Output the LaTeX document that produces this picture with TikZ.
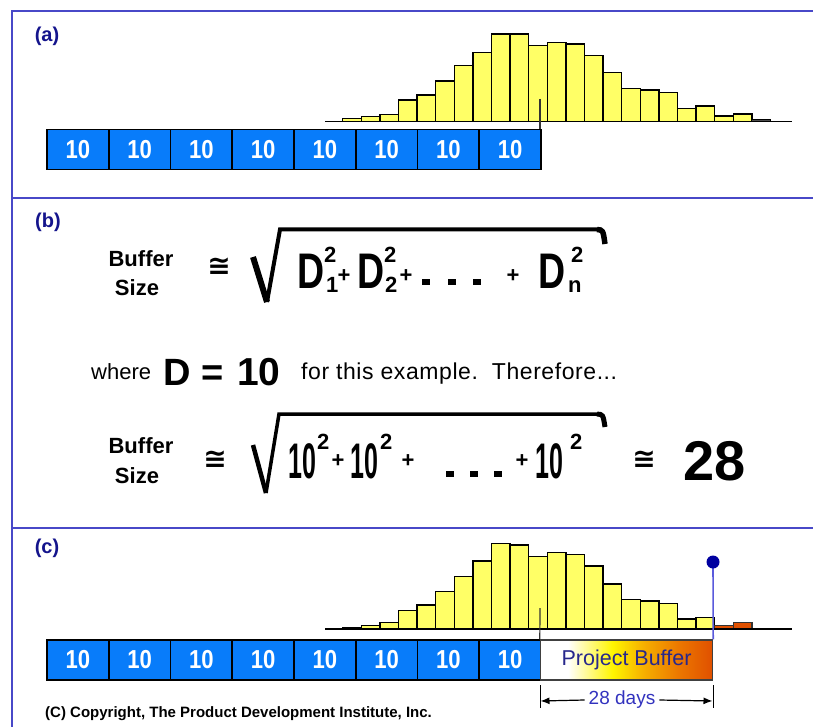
\documentclass[tikz,border=0pt]{standalone}
\usepackage{fontspec}
\setmainfont{Liberation Sans}
\newfontfamily\djv{DejaVu Sans}
\newfontfamily\narrowfont[FakeStretch=0.5]{Liberation Sans}
\newfontfamily\condfont[FakeStretch=0.75]{Liberation Sans}
\newfontfamily\boxfont[FakeStretch=0.85]{Liberation Sans}
\usetikzlibrary{arrows.meta}
\newcommand{\fsz}[1]{\fontsize{#1}{#1}\selectfont}
\definecolor{frameblue}{RGB}{72,72,200}
\definecolor{labelblue}{RGB}{20,20,140}
\definecolor{taskblue}{RGB}{8,124,250}
\definecolor{histyellow}{RGB}{255,255,102}
\definecolor{bufred}{RGB}{224,80,0}
\definecolor{orangeA}{RGB}{246,175,0}
\definecolor{orangeB}{RGB}{236,120,0}
\definecolor{pbyellow}{RGB}{255,245,0}
\definecolor{navytext}{RGB}{40,40,140}
\definecolor{dimblue}{RGB}{50,50,190}
\definecolor{markerblue}{RGB}{90,90,220}
\definecolor{dotblue}{RGB}{0,0,160}
\pgfdeclarehorizontalshading{pbshade}{100bp}{color(0bp)=(white); color(25bp)=(white); color(33bp)=(white); color(46bp)=(pbyellow); color(55bp)=(orangeA); color(65bp)=(orangeB); color(75bp)=(bufred); color(100bp)=(bufred)}
\tikzset{
  frame/.style={draw=frameblue, line width=2pt},
  bar/.style={draw=black, line width=1.3pt, fill=histyellow},
  tailbar/.style={draw=black!80, line width=1.3pt, fill=bufred},
  taskbox/.style={draw=black, line width=1.6pt, fill=taskblue, minimum width=61.75pt, minimum height=40pt, inner sep=0pt, text=white, font=\boxfont\bfseries\fsz{26}},
  panellabel/.style={text=labelblue, font=\bfseries\fsz{20}, inner sep=0pt},
  tok/.style={anchor=base west, inner sep=0pt},
  bigD/.style={tok, font=\condfont\bfseries\fsz{50}},
  small2/.style={tok, font=\bfseries\fsz{22}},
  plus/.style={inner sep=0pt, font=\bfseries\fsz{22}},
  narrowten/.style={tok, font=\narrowfont\bfseries\fsz{50}},
  approx/.style={inner sep=0pt, font=\djv\bfseries\fsz{28}},
  word/.style={inner sep=0pt, font=\bfseries\fsz{22}},
  dotsq/.style={fill=black, minimum width=8pt, minimum height=6pt, inner sep=0pt},
}
\begin{document}
\begin{tikzpicture}[x=1pt,y=-1pt]
\useasboundingbox (0,0) rectangle (813,727);
% frame
\draw[frame] (12,727) -- (12,11) -- (813,11);
\draw[frame] (12,198) -- (813,198);
\draw[frame] (12,528) -- (813,528);
\node[panellabel] (la) at (47,36) {(a)};
\node[panellabel] (lb) at (48,222) {(b)};
\node[panellabel] (lc) at (47,548) {(c)};

% ---------- panel (a)
\foreach \h [count=\i from 0] in {3.4,5,7.4,21.7,26.7,40.7,56,69.4,87.7,87.7,76,79.4,77.7,66,49,33.4,31.7,29,13.4,15.7,5.7,7.7}
  \draw[bar] (342.7+18.6*\i,121.7) rectangle ++(18.6,-\h);
\draw[draw=black, fill=black!70, line width=1pt] (751.9,121.7) rectangle ++(18.6,-1.7);
\draw[line width=1.5pt] (325,121.7) -- (792,121.7);
\foreach \i in {0,...,7}
  \node[taskbox] (ta\i) at (47+30.875+61.75*\i,149.5) {10};
\coordinate (ma) at (540,99);
\draw[line width=1.2pt, draw=black!80] (ma) -- (540,129.5);

% ---------- panel (b)
\node[word] (bf1) at (141,259) {Buffer};
\node[word] (sz1) at (137,288) {Size};
\node[approx] (eq1) at (219,267) {≅};
\draw[line width=6pt] (253,257) -- (267,302);
\draw[line width=4pt, line join=miter] (267,302) -- (280,229.5) -- (600,229.5);
\draw[line width=5.5pt] (597,229.5) .. controls (603,230) .. (605,244);
\node[bigD] (d1) at (297,288) {D};
\node[small2] (d1p) at (324,262) {2};
\node[small2] (d1s) at (326,292) {1};
\node[plus] (p1) at (344,276) {+};
\node[bigD] (d2) at (357,288) {D};
\node[small2] (d2p) at (384,262) {2};
\node[small2] (d2s) at (385,292) {2};
\node[plus] (p2) at (406,276) {+};
\node[dotsq] (o1) at (426,282) {};
\node[dotsq] (o2) at (452,282) {};
\node[dotsq] (o3) at (477,282) {};
\node[plus] (p3) at (513,276) {+};
\node[bigD] (dn) at (538,288) {D};
\node[small2] (dnp) at (571,262) {2};
\node[small2] (dns) at (568,292) {n};

\node[tok, font=\fsz{22}] (where) at (91,379) {where};
\node[tok, font=\bfseries\fsz{38}] (dD) at (163,385) {D};
\node[tok, font=\bfseries\fsz{38}] (dEq) at (201,385) {=};
\node[tok, font=\bfseries\fsz{39}] (dTen) at (237,385) {10};
\node[tok, font=\addfontfeature{LetterSpace=2.5}\fsz{23}] (forthis) at (301,379) {for this example.\ \ Therefore...};

\node[word] (bf2) at (141,446) {Buffer};
\node[word] (sz2) at (137,476) {Size};
\node[approx] (eq2) at (215,460) {≅};
\draw[line width=4.5pt] (253,445) -- (266,493);
\draw[line width=3.5pt, line join=miter] (266,493) -- (279,414) -- (600,414);
\draw[line width=5pt] (597,414) .. controls (603,414.5) .. (605,427);
\node[narrowten] (t1) at (288,478) {10};
\node[small2] (t1p) at (317,449) {2};
\node[plus] (q1) at (338,461) {+};
\node[narrowten] (t2) at (350,478) {10};
\node[small2] (t2p) at (380,449) {2};
\node[plus] (q2) at (408,461) {+};
\node[dotsq] (u1) at (450,474) {};
\node[dotsq] (u2) at (474,474) {};
\node[dotsq] (u3) at (498,474) {};
\node[plus] (q3) at (522,461) {+};
\node[narrowten] (t3) at (535,478) {10};
\node[small2] (t3p) at (570,449) {2};
\node[approx] (eq3) at (644,460) {≅};
\node[tok, font=\bfseries\fsz{56}] (res) at (683,480) {28};

% ---------- panel (c)
\draw[draw=black, fill=black!70, line width=1pt] (342.7,629) rectangle ++(18.6,-1.7);
\foreach \h [count=\i from 1] in {3.3,6.3,18.3,24,37.3,52.3,68,85.7,84,72.3,76.3,74.7,63,45,29.7,28,25.7,10,11.7}
  \draw[bar] (342.7+18.6*\i,629) rectangle ++(18.6,-\h);
\draw[tailbar] (714.7,629) rectangle ++(18.6,-3.3);
\draw[tailbar] (733.3,629) rectangle ++(18.6,-6.7);
\draw[line width=1.5pt] (325,629) -- (792,629);
\foreach \i in {0,...,7}
  \node[taskbox] (tc\i) at (47+30.875+61.75*\i,660) {10};
\node[draw=black!75, line width=1.4pt, shade, shading=pbshade, minimum width=172pt, minimum height=40pt, inner sep=0pt, text=navytext, font=\fsz{21.5}] (pb) at (626.5,660) {Project Buffer};
\coordinate (mc) at (540,608);
\draw[line width=1.2pt, draw=black!80] (mc) -- (pb.north west);
\coordinate (dot) at (713,562);
\draw[markerblue, line width=1.6pt] (dot) -- (pb.north east);
\fill[dotblue] (dot) circle (6.5pt);
% dimension
\draw[line width=1pt] (540,685) -- (540,708);
\draw[line width=1pt] (713,685) -- (713,708);
\coordinate (dl) at (540.5,701);
\coordinate (dr) at (712.5,701);
\node[inner sep=4pt, text=dimblue, font=\fsz{19}] (days) at (622,700) {28 days};
\draw[line width=1.2pt, -{Latex[length=9pt,width=7pt]}] (days.west) -- (dl);
\draw[line width=1.2pt, -{Latex[length=9pt,width=7pt]}] (days.east) -- (dr);
\node[anchor=west, inner sep=0pt, font=\bfseries\fsz{15}] (copy) at (45,714) {(C) Copyright, The Product Development Institute, Inc.};
\end{tikzpicture}
\end{document}
